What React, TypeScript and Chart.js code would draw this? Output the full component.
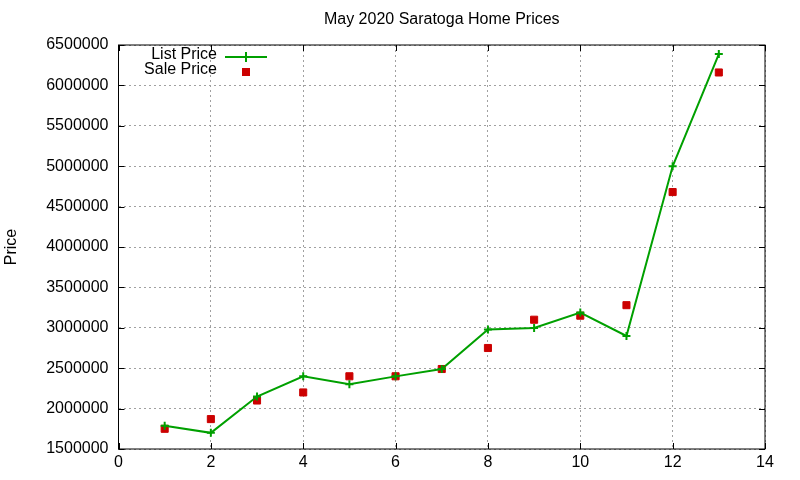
import { useEffect, useRef } from "react"
import { Chart, type ChartConfiguration, type Plugin, registerables } from "chart.js"

Chart.register(...registerables)

const chartTitle = "May 2020 Saratoga Home Prices"
const yAxisTitle = "Price"
const homeIndex = [1, 2, 3, 4, 5, 6, 7, 8, 9, 10, 11, 12, 13]
const listPrice = [1788000, 1700000, 2149000, 2399000, 2300000, 2399000, 2489000, 2980000, 2998000, 3189000, 2899000, 4999000, 6388000]
const salePrice = [1750000, 1870000, 2100000, 2200000, 2400000, 2400000, 2490000, 2750000, 3100000, 3150000, 3280000, 4680000, 6160000]

const FONT = "'Liberation Sans', Arial, sans-serif"
const GREEN = "#00a000"
const RED = "#cc0000"

// gnuplot-ish frame, inner ticks, title and key
const gnuplotDecor: Plugin = {
  id: "gnuplotDecor",
  afterDraw(chart) {
    const { ctx, chartArea } = chart
    const { left, right, top, bottom } = chartArea
    const xScale = chart.scales.x
    const yScale = chart.scales.y
    ctx.save()

    // frame
    ctx.strokeStyle = "#000"
    ctx.lineWidth = 1
    ctx.setLineDash([])
    ctx.strokeRect(left, top, right - left, bottom - top)

    // inner ticks on all four sides
    const tl = 6
    ctx.beginPath()
    xScale.ticks.forEach((t) => {
      const px = Math.round(xScale.getPixelForValue(t.value)) + 0.5
      ctx.moveTo(px, bottom)
      ctx.lineTo(px, bottom - tl)
      ctx.moveTo(px, top)
      ctx.lineTo(px, top + tl)
    })
    yScale.ticks.forEach((t) => {
      const py = Math.round(yScale.getPixelForValue(t.value)) + 0.5
      ctx.moveTo(left, py)
      ctx.lineTo(left + tl, py)
      ctx.moveTo(right, py)
      ctx.lineTo(right - tl, py)
    })
    ctx.stroke()

    // title
    ctx.fillStyle = "#000"
    ctx.font = `16px ${FONT}`
    ctx.textAlign = "center"
    ctx.textBaseline = "middle"
    ctx.fillText(chartTitle, (left + right) / 2, 20)

    // key
    const ds = chart.data.datasets
    const textRight = 217
    const sampleX = 246
    ctx.textAlign = "right"
    ctx.fillText(String(ds[0].label), textRight, 55)
    ctx.strokeStyle = GREEN
    ctx.lineWidth = 2
    ctx.beginPath()
    ctx.moveTo(225, 57)
    ctx.lineTo(267, 57)
    ctx.moveTo(sampleX, 52)
    ctx.lineTo(sampleX, 62)
    ctx.stroke()

    ctx.fillStyle = "#000"
    ctx.fillText(String(ds[1].label), textRight, 70)
    ctx.fillStyle = RED
    ctx.fillRect(sampleX - 4, 72 - 4, 8, 8)

    ctx.restore()
  },
}

export default function App() {
  const chartRef = useRef<HTMLCanvasElement>(null)
  const chartInstance = useRef<Chart | null>(null)

  useEffect(() => {
    if (!chartRef.current) return
    if (chartInstance.current) chartInstance.current.destroy()

    const ctx = chartRef.current.getContext("2d")
    if (!ctx) return

    const gridStyle = { color: "#a0a0a0", lineWidth: 1, drawTicks: false }

    const config: ChartConfiguration = {
      type: "scatter",
      data: {
        datasets: [
          {
            label: "List Price",
            data: homeIndex.map((x, i) => ({ x, y: listPrice[i] })),
            showLine: true,
            borderColor: GREEN,
            backgroundColor: GREEN,
            borderWidth: 2,
            pointStyle: "cross",
            pointRadius: 4,
            pointBorderWidth: 2,
            pointBorderColor: GREEN,
          },
          {
            label: "Sale Price",
            data: homeIndex.map((x, i) => ({ x, y: salePrice[i] })),
            showLine: false,
            borderColor: RED,
            backgroundColor: RED,
            pointStyle: "rect",
            pointRadius: 5,
            pointBorderWidth: 1,
          },
        ],
      },
      options: {
        responsive: false,
        animation: false,
        layout: { padding: { top: 45, right: 35, bottom: 0, left: 0 } },
        scales: {
          x: {
            type: "linear",
            min: 0,
            max: 14,
            grid: gridStyle,
            border: { display: false, dash: [2, 3] },
            ticks: {
              stepSize: 2,
              padding: 4,
              color: "#000",
              font: { family: FONT, size: 16 },
              callback: (v) => String(v),
            },
            afterFit: (scale) => {
              scale.height = 31
            },
          },
          y: {
            type: "linear",
            min: 1500000,
            max: 6500000,
            grid: gridStyle,
            border: { display: false, dash: [2, 3] },
            title: {
              display: true,
              text: yAxisTitle,
              color: "#000",
              font: { family: FONT, size: 16 },
              padding: { top: 2, bottom: 0 },
            },
            ticks: {
              stepSize: 500000,
              padding: 10,
              color: "#000",
              font: { family: FONT, size: 16 },
              callback: (v) => String(v),
            },
            afterFit: (scale) => {
              scale.width = 118.5
            },
          },
        },
        plugins: {
          legend: { display: false },
          title: { display: false },
          tooltip: { enabled: false },
        },
      },
      plugins: [gnuplotDecor],
    }

    chartInstance.current = new Chart(ctx, config)

    return () => {
      if (chartInstance.current) {
        chartInstance.current.destroy()
        chartInstance.current = null
      }
    }
  }, [])

  return (
    <div style={{ position: "fixed", left: 0, top: 0, width: 800, height: 480, background: "#fff" }}>
      <canvas ref={chartRef} width={800} height={480} style={{ display: "block" }} />
    </div>
  )
}
